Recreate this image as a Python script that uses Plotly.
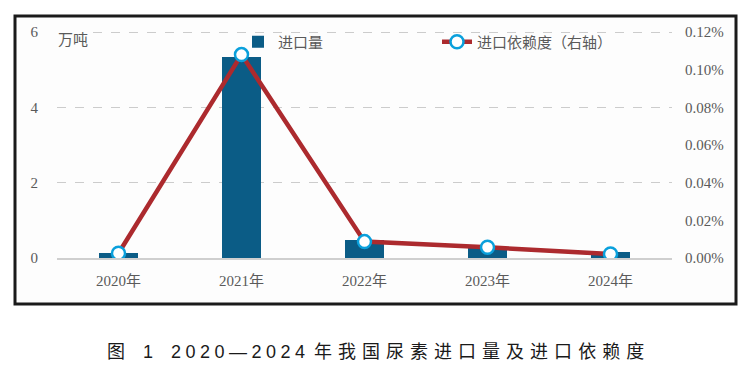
import plotly.graph_objects as go

years = ["2020年", "2021年", "2022年", "2023年", "2024年"]
import_volume = [0.14, 5.33, 0.48, 0.30, 0.17]          # 万吨
dependency_pct = [0.0025, 0.108, 0.0087, 0.0057, 0.0021]  # %
left_ticks = [0, 2, 4, 6]
right_ticks = [0, 0.02, 0.04, 0.06, 0.08, 0.10, 0.12]
right_tick_labels = ["0.00%", "0.02%", "0.04%", "0.06%", "0.08%", "0.10%", "0.12%"]

en, sp3, sp4 = "\u2002", "\u2004", "\u2005"
caption = ("图" + en * 2 + "1" + en * 2 + sp4.join("2020—2024") + en
           + sp3.join("年我国尿素进口量及进口依赖度"))

# page body has an 8px offset; size the figure so it fits the 749x366 window
OFF = 8
W, H = 749 - OFF, 366 - OFF
X0, X1, Y0, Y1 = 57, 672, 30, 258   # plot area in reference pixels
top = 6 * (Y1 - Y0) / 226           # value 6 sits at y=32
L, T = X0 - OFF, Y0 - OFF
pw, ph = X1 - X0, Y1 - Y0
R, B = W - L - pw, H - T - ph

def px(x):
    return (x - X0) / pw

def py(y):
    return (Y1 - y) / ph

FONT = "Liberation Serif, Noto Sans CJK SC"
tick_font = dict(family=FONT, size=15, color="#5a5a5a")

fig = go.Figure()
fig.add_trace(go.Bar(
    x=years, y=import_volume, name="进口量",
    marker=dict(color="#0B5C86", line=dict(width=0)),
    width=0.32, legend="legend",
))
fig.add_trace(go.Scatter(
    x=years, y=dependency_pct, name="进口依赖度（右轴）", yaxis="y2",
    mode="lines+markers",
    line=dict(color="#AC2A2E", width=4.5),
    marker=dict(size=13, color="white", line=dict(color="#0AA0DC", width=2.5)),
    legend="legend2",
))

fig.update_layout(
    width=W, height=H,
    margin=dict(l=L, r=R, t=T, b=B),
    paper_bgcolor="white",
    plot_bgcolor="rgba(0,0,0,0)",
    font=dict(family=FONT, color="#5a5a5a"),
    bargap=0,
    xaxis=dict(
        tickfont=tick_font, showgrid=False, showline=True, linecolor="#cfcfcf",
        linewidth=1.5, ticks="", range=[-0.5, 4.5], ticklabelstandoff=8,
    ),
    yaxis=dict(
        range=[0, top], tickvals=left_ticks, tickfont=tick_font,
        showgrid=True, gridcolor="#cccccc", griddash="dash", gridwidth=1.2,
        zeroline=False, showline=False, ticks="", ticklabelstandoff=18,
    ),
    yaxis2=dict(
        range=[0, 0.12 * top / 6], tickmode="array", tickvals=right_ticks,
        ticktext=right_tick_labels, ticklabelstandoff=12,
        tickfont=tick_font, overlaying="y", side="right", showgrid=False,
        zeroline=False, showline=False, ticks="",
    ),
    legend=dict(
        orientation="h", x=px(238), y=py(42), xanchor="left", yanchor="middle",
        font=dict(family=FONT, size=15, color="#5a5a5a"),
        bgcolor="rgba(0,0,0,0)",
    ),
    legend2=dict(
        orientation="h", x=px(437), y=py(42), xanchor="left", yanchor="middle",
        font=dict(family=FONT, size=15, color="#5a5a5a"),
        bgcolor="rgba(0,0,0,0)",
    ),
    showlegend=True,
)

fig.add_shape(
    type="rect", xref="paper", yref="paper",
    x0=px(15), x1=px(736), y0=py(304), y1=py(16),
    line=dict(color="#1a1a1a", width=3), fillcolor="#fdfdfd", layer="below",
)

fig.add_annotation(
    text="万吨", xref="paper", yref="paper", x=px(56), y=py(40),
    xanchor="left", yanchor="middle", showarrow=False, bgcolor="#fdfdfd",
    font=dict(family=FONT, size=15, color="#5a5a5a"),
)
fig.add_annotation(
    text=caption, xref="paper", yref="paper", x=px(375), y=py(352),
    xanchor="center", yanchor="middle", showarrow=False,
    font=dict(family="Liberation Sans, Noto Sans CJK SC", size=18, color="#1a1a1a"),
)

fig.write_html("out.html")
